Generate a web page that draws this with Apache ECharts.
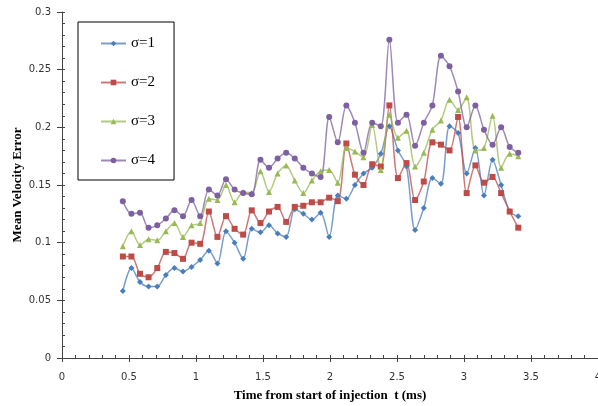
<!DOCTYPE html>
<html>
<head>
<meta charset="utf-8">
<script src="https://cdn.jsdelivr.net/npm/echarts@6/dist/echarts.min.js"></script>
<style>
    html, body { margin: 0; padding: 0; background: #fff; }
    #velocityLine { width: 598px; height: 406px; }
</style>
</head>
<body>
<div id="velocityLine"></div>
<script>
    // time from start of injection (ms)
    const times = [0.454, 0.518, 0.582, 0.646, 0.711, 0.775, 0.839, 0.903, 0.967, 1.031,
        1.096, 1.160, 1.224, 1.288, 1.352, 1.416, 1.481, 1.545, 1.609, 1.673,
        1.737, 1.801, 1.865, 1.930, 1.994, 2.058, 2.122, 2.186, 2.250, 2.315,
        2.379, 2.443, 2.507, 2.571, 2.635, 2.700, 2.764, 2.828, 2.892, 2.956,
        3.020, 3.085, 3.149, 3.213, 3.277, 3.341, 3.405];

    const sigma1 = [0.058, 0.078, 0.066, 0.062, 0.062, 0.072, 0.078, 0.075, 0.079, 0.085,
        0.093, 0.082, 0.110, 0.100, 0.086, 0.112, 0.109, 0.115, 0.108, 0.105,
        0.129, 0.125, 0.120, 0.126, 0.105, 0.141, 0.138, 0.150, 0.160, 0.165,
        0.177, 0.201, 0.180, 0.166, 0.111, 0.130, 0.156, 0.151, 0.201, 0.195,
        0.160, 0.182, 0.141, 0.172, 0.150, 0.127, 0.123];

    const sigma2 = [0.088, 0.088, 0.073, 0.070, 0.078, 0.092, 0.091, 0.086, 0.100, 0.099,
        0.127, 0.105, 0.123, 0.112, 0.107, 0.128, 0.117, 0.127, 0.131, 0.118,
        0.131, 0.132, 0.135, 0.135, 0.139, 0.136, 0.186, 0.159, 0.150, 0.168,
        0.166, 0.219, 0.156, 0.169, 0.137, 0.153, 0.187, 0.185, 0.180, 0.209,
        0.143, 0.167, 0.152, 0.157, 0.143, 0.127, 0.113];

    const sigma3 = [0.097, 0.110, 0.098, 0.103, 0.102, 0.110, 0.117, 0.105, 0.115, 0.117,
        0.138, 0.137, 0.150, 0.135, 0.144, 0.143, 0.162, 0.144, 0.160, 0.167,
        0.154, 0.143, 0.154, 0.162, 0.163, 0.152, 0.182, 0.179, 0.174, 0.202,
        0.163, 0.211, 0.191, 0.197, 0.166, 0.178, 0.198, 0.206, 0.224, 0.215,
        0.226, 0.180, 0.182, 0.210, 0.165, 0.177, 0.175];

    const sigma4 = [0.136, 0.125, 0.126, 0.113, 0.115, 0.121, 0.128, 0.123, 0.137, 0.123,
        0.146, 0.141, 0.155, 0.146, 0.143, 0.142, 0.172, 0.165, 0.173, 0.178,
        0.173, 0.165, 0.160, 0.157, 0.209, 0.187, 0.219, 0.204, 0.178, 0.204,
        0.201, 0.276, 0.204, 0.211, 0.184, 0.204, 0.219, 0.262, 0.253, 0.231,
        0.200, 0.219, 0.198, 0.185, 0.200, 0.183, 0.178];

    const xTicks = ['0', '0.5', '1', '1.5', '2', '2.5', '3', '3.5', '4'];

    let myChart = echarts.init(document.getElementById('velocityLine'));

    function pairs(values) {
        return values.map((v, i) => [times[i], v]);
    }

    let seriesDefs = [
        {name: 'σ=1', data: sigma1, color: '#4a7ebb', symbol: 'diamond', size: 6},
        {name: 'σ=2', data: sigma2, color: '#be4b48', symbol: 'rect', size: 6},
        {name: 'σ=3', data: sigma3, color: '#98b954', symbol: 'triangle', size: 6},
        {name: 'σ=4', data: sigma4, color: '#7d60a0', symbol: 'circle', size: 6}
    ];

    let seriesData = seriesDefs.map(item => ({
        name: item.name,
        type: 'line',
        xAxisIndex: 0,
        yAxisIndex: 0,
        smooth: 0.3,
        data: pairs(item.data),
        symbol: item.symbol,
        symbolSize: item.size,
        showSymbol: true,
        itemStyle: {color: item.color},
        lineStyle: {color: item.color, width: 1.5, opacity: 0.75}
    }));

    const labelStyle = {color: '#333', fontFamily: 'DejaVu Sans', fontSize: 10};
    const axisColor = '#444';

    let option = {
        animation: false,
        grid: {left: 62, right: 0, top: 12, bottom: 48, outerBoundsMode: 'none', containLabel: false},
        legend: {
            orient: 'vertical',
            left: 78,
            top: 22,
            padding: [13, 19, 11, 22],
            itemGap: 22,
            itemWidth: 25,
            itemHeight: 7,
            borderColor: '#000',
            borderWidth: 1,
            textStyle: {fontFamily: 'Liberation Serif', fontSize: 15, color: '#000', lineHeight: 17},
            data: seriesDefs.map(item => item.name)
        },
        xAxis: [{
            type: 'value',
            min: 0,
            max: 4,
            interval: 0.5,
            name: 'Time from start of injection  t (ms)',
            nameLocation: 'middle',
            nameGap: 31,
            nameMoveOverlap: false,
            nameTextStyle: {fontFamily: 'Liberation Serif', fontWeight: 'bold', fontSize: 13, color: '#000'},
            splitLine: {show: false},
            axisLine: {lineStyle: {color: axisColor}},
            axisTick: {length: 4, lineStyle: {color: axisColor}},
            axisLabel: Object.assign({margin: 14, formatter: v => xTicks[Math.round(v / 0.5)]}, labelStyle)
        }, {
            type: 'value',
            position: 'bottom',
            min: 0,
            max: 4,
            interval: 0.1,
            splitLine: {show: false},
            axisLine: {show: false},
            axisTick: {inside: true, length: 3, lineStyle: {color: axisColor}},
            axisLabel: {show: false}
        }],
        yAxis: [{
            type: 'value',
            min: 0,
            max: 0.3,
            interval: 0.05,
            name: 'Mean Velocity Error',
            nameLocation: 'middle',
            nameGap: 38,
            nameMoveOverlap: false,
            nameTextStyle: {fontFamily: 'Liberation Serif', fontWeight: 'bold', fontSize: 13, color: '#000'},
            splitLine: {show: false},
            axisLine: {show: true, lineStyle: {color: axisColor}},
            axisTick: {show: true, length: 5, lineStyle: {color: axisColor}},
            axisLabel: Object.assign({margin: 11}, labelStyle)
        }, {
            type: 'value',
            position: 'left',
            min: 0,
            max: 0.3,
            interval: 0.01,
            splitLine: {show: false},
            axisLine: {show: false},
            axisTick: {show: true, inside: true, length: 3, lineStyle: {color: axisColor}},
            axisLabel: {show: false}
        }],
        series: seriesData
    };

    myChart.setOption(option);
</script>
</body>
</html>
